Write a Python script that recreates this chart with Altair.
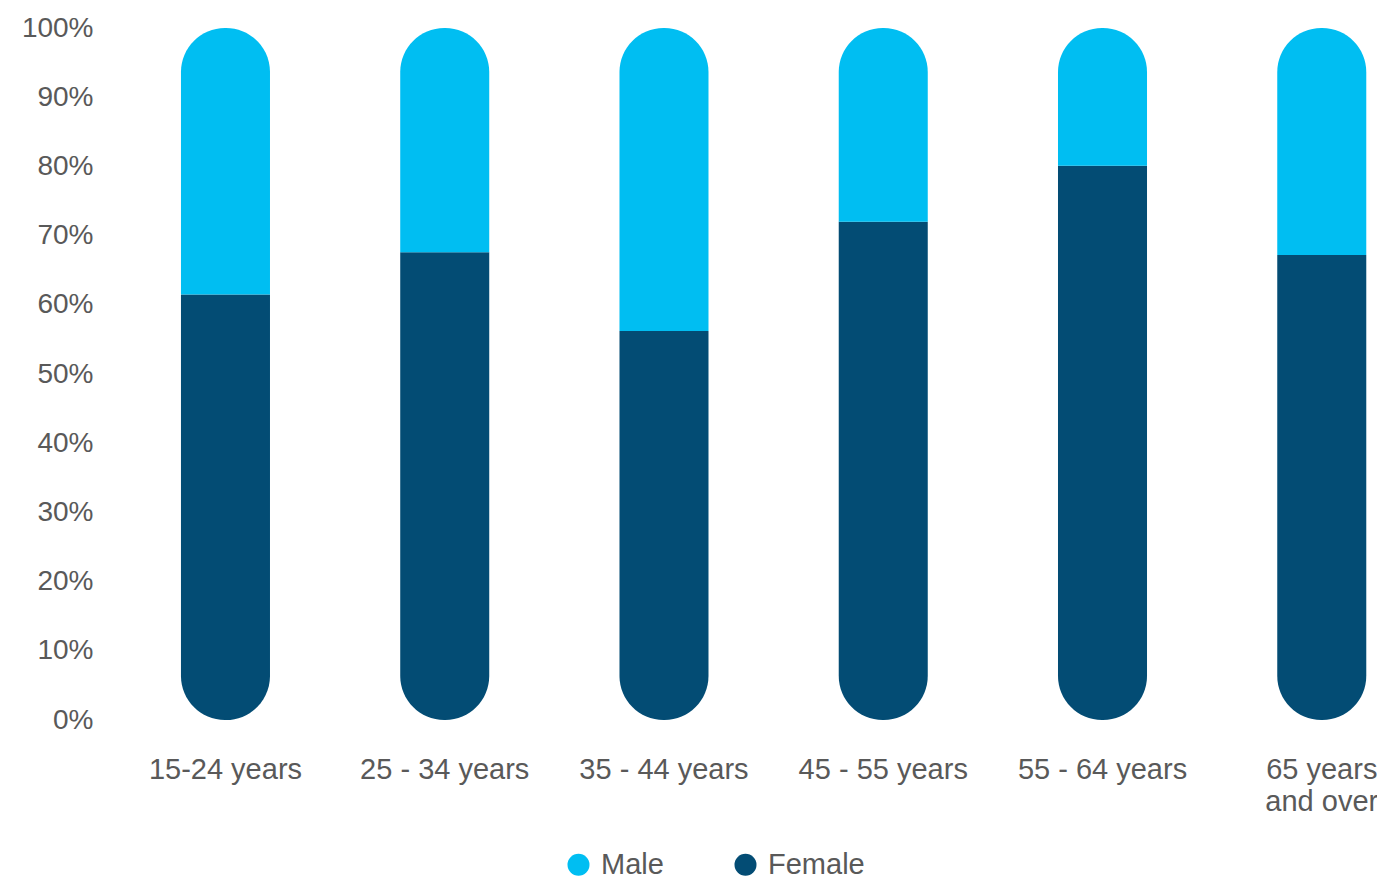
import altair as alt
import pandas as pd

categories = ["15-24 years", "25 - 34 years", "35 - 44 years", "45 - 55 years", "55 - 64 years", "65 years and over"]
female = [61.5, 67.6, 56.2, 72.0, 80.1, 67.2]
male = [38.5, 32.4, 43.8, 28.0, 19.9, 32.8]
series = ["Male", "Female"]
colors = ["#00BEF2", "#034C74"]

rows = []
for c, f, m in zip(categories, female, male):
    rows.append({"category": c, "sex": "Female", "lo": 0.0, "hi": f / 100})
    rows.append({"category": c, "sex": "Male", "lo": f / 100, "hi": (f + m) / 100})
df = pd.DataFrame(rows)

FONT = "Liberation Sans"
GREY = "#595959"

x = alt.X(
    "category:N",
    sort=categories,
    scale=alt.Scale(paddingInner=0.594, paddingOuter=0.2091, align=0.883),
    axis=alt.Axis(
        title=None, labelAngle=0, domain=False, ticks=False, labelPadding=35,
        labelFontSize=29, labelColor=GREY, labelFont=FONT, labelLineHeight=32,
        labelExpr="datum.value == '65 years and over' ? ['65 years', 'and over'] : datum.label",
    ),
)
y = alt.Y(
    "lo:Q",
    scale=alt.Scale(domain=[0, 1], nice=False),
    axis=alt.Axis(
        title=None, format="%", values=[i / 10 for i in range(11)], domain=False, ticks=False,
        grid=False, labelPadding=7, labelFontSize=28, labelColor=GREY, labelFont=FONT,
        labelFlush=False,
    ),
)
color = alt.Color(
    "sex:N",
    scale=alt.Scale(domain=series, range=colors),
    legend=alt.Legend(
        title=None, orient="none", legendX=464, legendY=822, direction="horizontal",
        symbolType="circle", symbolSize=484, symbolStrokeWidth=0, labelFontSize=29,
        labelColor=GREY, labelFont=FONT, labelOffset=8, columnPadding=67,
    ),
)

base = alt.Chart(df)
fem = base.transform_filter(alt.datum.sex == "Female").mark_bar(
    cornerRadiusBottomLeft=44, cornerRadiusBottomRight=44
).encode(x=x, y=y, y2="hi:Q", color=color)
mal = base.transform_filter(alt.datum.sex == "Male").mark_bar(
    cornerRadiusTopLeft=44, cornerRadiusTopRight=44
).encode(x=x, y=y, y2="hi:Q", color=color)

chart = alt.layer(fem, mal).properties(
    width=1277, height=692,
    autosize=alt.AutoSizeParams(type="none"),
    padding={"left": 92, "top": 20, "right": 0, "bottom": 159},
).configure_view(strokeWidth=0)

chart.save("out.html", embed_options={"renderer": "svg", "actions": False})
